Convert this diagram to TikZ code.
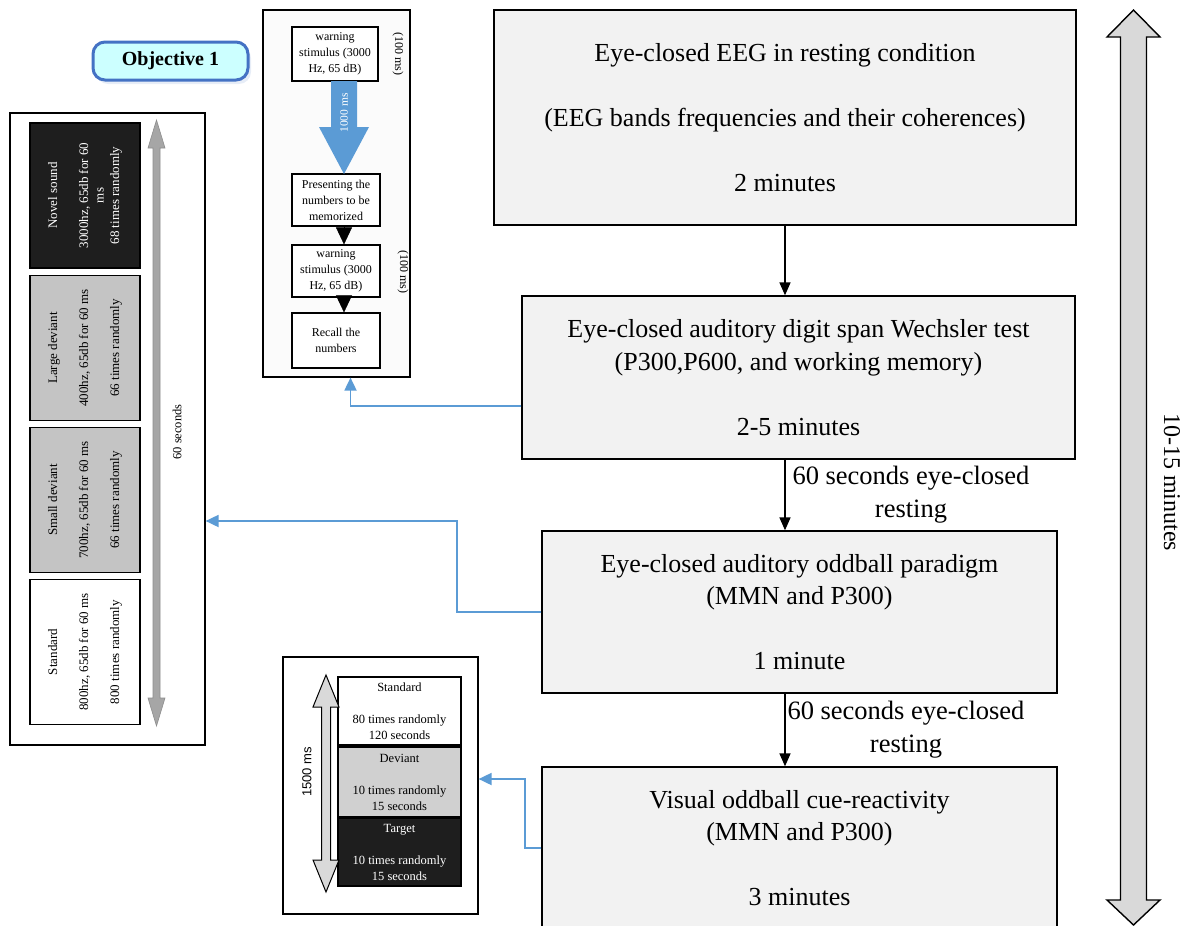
\documentclass[tikz,border=0pt]{standalone}
\usepackage{fontspec}
\setmainfont{Liberation Serif}
\setsansfont{Liberation Sans}
\usetikzlibrary{arrows.meta,shadows,calc}

\definecolor{boxgray}{HTML}{F2F2F2}
\definecolor{midgray}{HTML}{C4C4C4}
\definecolor{lightmid}{HTML}{D0D0D0}
\definecolor{darkfill}{HTML}{1E1E1E}
\definecolor{linkblue}{HTML}{5B9BD5}
\definecolor{objborder}{HTML}{4472C4}
\definecolor{objfill}{HTML}{CCFFFF}
\definecolor{spangray}{HTML}{D9D9D9}
\definecolor{rulegray}{HTML}{A6A6A6}

\begin{document}
\begin{tikzpicture}[x=1pt,y=-1pt,
  stage/.style={draw=black, line width=1.3pt, fill=boxgray, align=center,
    font=\fontsize{26}{32.5}\selectfont, inner sep=0pt},
  flow/.style={line width=1.5pt, -{Triangle[length=13pt,width=11pt]}},
  link/.style={draw=linkblue, line width=1.8pt, -{Triangle[length=13pt,width=12pt]}},
  panel/.style={draw=black, line width=1.2pt, fill=white, inner sep=0pt},
  tone/.style={draw=black, line width=1.2pt, rotate=90, align=center, inner sep=0pt,
    minimum width=145pt, minimum height=110pt, font=\fontsize{13}{15.5}\selectfont},
  memobox/.style={draw=black, line width=1.2pt, fill=white, align=center, inner sep=0pt,
    minimum width=88pt, font=\fontsize{12}{16}\selectfont},
  cue/.style={draw=black, line width=1.2pt, align=center, inner sep=0pt,
    minimum width=123pt, font=\fontsize{12.5}{16}\selectfont},
  tick/.style={line width=0.4pt, -{Triangle[length=17pt,width=16pt]}},
  restnote/.style={align=center, font=\fontsize{26.5}{33}\selectfont},
]
\useasboundingbox (0,0) rectangle (1195,926);

% ---------- side panels ----------
\node[panel, minimum width=195pt, minimum height=632pt] (aud) at (107.5,429) {};
\node[panel, fill=gray!3, minimum width=147pt, minimum height=367pt] (memo) at (336.5,193.5) {};
\node[panel, minimum width=195pt, minimum height=257pt] (vis) at (380.5,785.5) {};

% ---------- main sequence ----------
\node[stage, minimum width=582pt, minimum height=215pt] (rest) at (785,117.5)
  {Eye-closed EEG in resting condition\\[32.5pt]
   (EEG bands frequencies and their coherences)\\[32.5pt]
   2 minutes};
\node[stage, minimum width=553pt, minimum height=163pt] (digit) at (798.5,377.5)
  {Eye-closed auditory digit span Wechsler test\\
   (P300,P600, and working memory)\\[32.5pt]
   2-5 minutes};
\node[stage, minimum width=515pt, minimum height=162pt] (odd) at (799.5,612)
  {Eye-closed auditory oddball paradigm\\
   (MMN and P300)\\[32.5pt]
   1 minute};
\node[stage, minimum width=515pt, minimum height=162pt] (cuer) at (799.5,848)
  {Visual oddball cue-reactivity\\
   (MMN and P300)\\[32.5pt]
   3 minutes};

\draw[flow] (rest.south) -- (rest.south |- digit.north);
\draw[flow] (digit.south -| rest.south) -- (rest.south |- odd.north);
\draw[flow] (odd.south -| rest.south) -- (rest.south |- cuer.north);

\node[restnote] (gap1) at (911,495) {60 seconds eye-closed\\resting};
\node[restnote] (gap2) at (906,730) {60 seconds eye-closed\\resting};

% overall duration arrow
\filldraw[fill=spangray, draw=black, line width=1.4pt]
  (1133.5,10) -- (1160,37) -- (1146.5,37) -- (1146.5,900) -- (1160,900)
  -- (1133.5,925) -- (1107,900) -- (1120.5,900) -- (1120.5,37) -- (1107,37) -- cycle;
\node[rotate=-90, font=\fontsize{24}{28}\selectfont] (total) at (1172,482) {10-15 minutes};

% ---------- objective tag ----------
\node[draw=objborder, line width=3pt, fill=objfill, rounded corners=12pt,
  minimum width=155pt, minimum height=38pt, inner sep=0pt,
  drop shadow={shadow xshift=3pt, shadow yshift=-4pt, fill=objborder!25},
  font=\bfseries\fontsize{20}{24}\selectfont] (obj) at (170.5,61) {Objective 1};

% ---------- auditory oddball stimuli ----------
\node[tone, fill=darkfill, text=white] (novel) at (85,195.5)
  {Novel sound\\[15.5pt]3000hz, 65db for 60\\ms\\68 times randomly};
\node[tone, fill=midgray] (large) at (85,348)
  {Large deviant\\[15.5pt]400hz, 65db for 60 ms\\[15.5pt]66 times randomly};
\node[tone, fill=midgray] (small) at (85,500)
  {Small deviant\\[15.5pt]700hz, 65db for 60 ms\\[15.5pt]66 times randomly};
\node[tone, fill=white] (std) at (85,652)
  {Standard\\[15.5pt]800hz, 65db for 60 ms\\[15.5pt]800 times randomly};

\filldraw[fill=rulegray, draw=rulegray!85!black, line width=0.6pt]
  (156.5,120) -- (165,148) -- (160,148) -- (160,698) -- (165,698)
  -- (156.5,726) -- (148,698) -- (153,698) -- (153,148) -- (148,148) -- cycle;
\node[rotate=90, font=\fontsize{12.5}{15}\selectfont] (dur60) at (177,432) {60 seconds};

% ---------- digit span trial ----------
\node[memobox, minimum width=86pt, minimum height=54pt] (warn1) at (335,54)
  {warning\\stimulus (3000\\Hz, 65 dB)};
\node[memobox, minimum height=52pt] (show) at (336,200)
  {Presenting the\\numbers to be\\memorized};
\node[memobox, minimum height=52pt] (warn2) at (336,271)
  {warning\\stimulus (3000\\Hz, 65 dB)};
\node[memobox, minimum height=55pt] (recall) at (336,340.5)
  {Recall the\\numbers};

\fill[linkblue] (331,81) -- (357,81) -- (357,127) -- (369,127) -- (344,174)
  -- (319,127) -- (331,127) -- cycle;
\node[rotate=90, text=white, font=\fontsize{11.5}{13}\selectfont] (isi) at (344,113) {1000 ms};

\draw[tick] ([xshift=8pt]show.south) -- ([xshift=8pt]warn2.north);
\draw[tick] ([xshift=8pt]warn2.south) -- ([xshift=8pt]recall.north);

\node[rotate=-90, font=\fontsize{12}{14}\selectfont] (d1) at (398,54) {(100 ms)};
\node[rotate=-90, font=\fontsize{12}{14}\selectfont] (d2) at (403,272) {(100 ms)};

% ---------- visual oddball stimuli ----------
\node[cue, fill=white, minimum height=68pt] (vstd) at (399.5,711)
  {Standard\\[16pt]80 times randomly\\120 seconds};
\node[cue, fill=lightmid, minimum height=70pt] (vdev) at (399.5,782)
  {Deviant\\[16pt]10 times randomly\\15 seconds};
\node[cue, fill=darkfill, text=white, minimum height=68pt] (vtgt) at (399.5,852)
  {Target\\[16pt]10 times randomly\\15 seconds};

\filldraw[fill=spangray, draw=black, line width=1pt]
  (326,675) -- (339,707) -- (330.5,707) -- (330.5,860) -- (339,860)
  -- (326,892) -- (313,860) -- (321.5,860) -- (321.5,707) -- (313,707) -- cycle;
\node[rotate=90, font=\sffamily\fontsize{13}{15}\selectfont] (soa) at (307,772) {1500 ms};

% ---------- links to task details ----------
\draw[link] ([yshift=-28.5pt]digit.west) -| ([xshift=14pt]memo.south);
\draw[link] (odd.west) -- ++(-84,0) |- ([yshift=-92pt]aud.east);
\draw[link] (cuer.west) -- ++(-16,0) |- ([yshift=6.5pt]vis.east);
\end{tikzpicture}
\end{document}
